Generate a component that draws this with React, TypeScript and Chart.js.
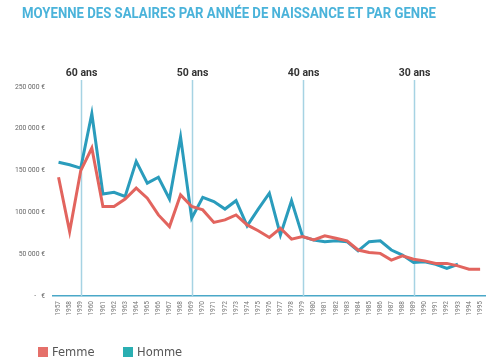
import React, { useEffect, useRef } from "react";
import { Chart, registerables } from "chart.js";

Chart.register(...registerables);

const years = [
  "1957","1958","1959","1960","1961","1962","1963","1964","1965","1966",
  "1967","1968","1969","1970","1971","1972","1973","1974","1975","1976",
  "1977","1978","1979","1980","1981","1982","1983","1984","1985","1986",
  "1987","1988","1989","1990","1991","1992","1993","1994","1995",
];

const femme = [
  142000, 77000, 150000, 177000, 107000, 107000, 116000, 129000, 117000, 97000,
  83000, 121000, 107000, 103000, 88000, 91000, 97000, 85000, 78000, 70000,
  81000, 68000, 71000, 67000, 72000, 69000, 66000, 55000, 52000, 51000,
  43000, 48000, 44000, 42000, 39000, 39000, 36000, 32000, 32000,
];

const homme: (number | null)[] = [
  160000, 157000, 153000, 218000, 122000, 124000, 119000, 161000, 135000, 142000,
  116000, 190000, 93000, 118000, 113000, 104000, 114000, 84000, 104000, 123000,
  73000, 114000, 71000, 67000, 65000, 66000, 65000, 54000, 65000, 66000,
  55000, 49000, 40000, 41000, 38000, 33000, 38000, null, null,
];

const ageMarkers = [
  { year: "1959", label: "60 ans" },
  { year: "1969", label: "50 ans" },
  { year: "1979", label: "40 ans" },
  { year: "1989", label: "30 ans" },
];

const yTicks = [0, 50000, 100000, 150000, 200000, 250000];

const title = "MOYENNE DES SALAIRES PAR ANNÉE DE NAISSANCE ET PAR GENRE";

const seriesNames = ["Femme", "Homme"];
const lineColors = ["#e2645e", "#2a9cbc"];
const legendColors = ["#e5706a", "#2aafb2"];

function fmt(v: number): string {
  if (v === 0) return "-   €";
  const s = String(v);
  return s.slice(0, s.length - 3) + " " + s.slice(s.length - 3) + " €";
}

const overlayPlugin = {
  id: "overlay",
  afterDraw(chart: any) {
    const ctx = chart.ctx;
    ctx.save();
    // title
    ctx.fillStyle = "#4ab3da";
    ctx.font = "bold 14px Roboto, 'DejaVu Sans', sans-serif";
    ctx.textBaseline = "middle";
    ctx.textAlign = "left";
    ctx.fillText(title, 22, 14, 414);
    // legend
    ctx.font = "11.5px 'DejaVu Sans', sans-serif";
    let lx = 38;
    chart.data.datasets.forEach((ds: any, i: number) => {
      ctx.fillStyle = legendColors[i];
      ctx.fillRect(lx, 347, 10, 10);
      ctx.fillStyle = "#555";
      ctx.fillText(ds.label, lx + 14, 353);
      lx += 85;
    });
    ctx.restore();
  },
  beforeDatasetsDraw(chart: any) {
    const ctx = chart.ctx;
    const x = chart.scales.x;
    const area = chart.chartArea;
    ctx.save();
    ageMarkers.forEach((m) => {
      const idx = years.indexOf(m.year);
      const px = Math.round(x.getPixelForValue(idx)) + 0.5;
      ctx.strokeStyle = "#a6d3e3";
      ctx.lineWidth = 1.5;
      ctx.beginPath();
      ctx.moveTo(px, area.top - 7);
      ctx.lineTo(px, area.bottom);
      ctx.stroke();
      ctx.fillStyle = "#333";
      ctx.font = "bold 10.5px Roboto, 'DejaVu Sans', sans-serif";
      ctx.textAlign = "center";
      ctx.textBaseline = "middle";
      ctx.fillText(m.label, px, area.top - 14);
    });
    ctx.restore();
  },
};

export default function App() {
  const ref = useRef<HTMLCanvasElement | null>(null);
  useEffect(() => {
    if (!ref.current) return;
    const chart = new Chart(ref.current, {
      type: "line",
      data: {
        labels: years,
        datasets: [
          {
            label: seriesNames[0],
            data: femme,
            borderColor: lineColors[0],
            backgroundColor: lineColors[0],
            borderWidth: 3,
            pointRadius: 0,
            tension: 0,
          },
          {
            label: seriesNames[1],
            data: homme,
            borderColor: lineColors[1],
            backgroundColor: lineColors[1],
            borderWidth: 3,
            pointRadius: 0,
            tension: 0,
          },
        ],
      },
      options: {
        animation: false,
        responsive: false,
        layout: { padding: { left: 0, right: 6, top: 87, bottom: 42 } },
        plugins: {
          legend: { display: false },
          title: { display: false },
          tooltip: { enabled: false },
        },
        scales: {
          x: {
            offset: true,
            grid: { display: false, drawTicks: false },
            border: { display: true, color: "#4aa8c8", width: 1.5 },
            ticks: {
              autoSkip: false,
              minRotation: 90,
              maxRotation: 90,
              padding: 5,
              color: "#777",
              font: { size: 6.5, family: "Roboto, sans-serif" },
            },
            afterFit: (s: any) => {
              s.height = 26;
            },
          },
          y: {
            min: 0,
            max: 250000,
            afterBuildTicks: (s: any) => {
              s.ticks = yTicks.map((v) => ({ value: v }));
            },
            grid: { display: false, drawTicks: false },
            border: { display: false },
            ticks: {
              padding: 8,
              color: "#666",
              font: { size: 6.8, family: "Roboto, sans-serif" },
              callback: (v: any) => fmt(Number(v)),
            },
            afterFit: (s: any) => {
              s.width = 53;
            },
          },
        },
      },
      plugins: [overlayPlugin],
    });
    return () => chart.destroy();
  }, []);
  return (
    <div style={{ position: "fixed", left: 0, top: 0, width: 493, height: 364, background: "#fff" }}>
      <canvas ref={ref} width={493} height={364} style={{ width: 493, height: 364 }} />
    </div>
  );
}
